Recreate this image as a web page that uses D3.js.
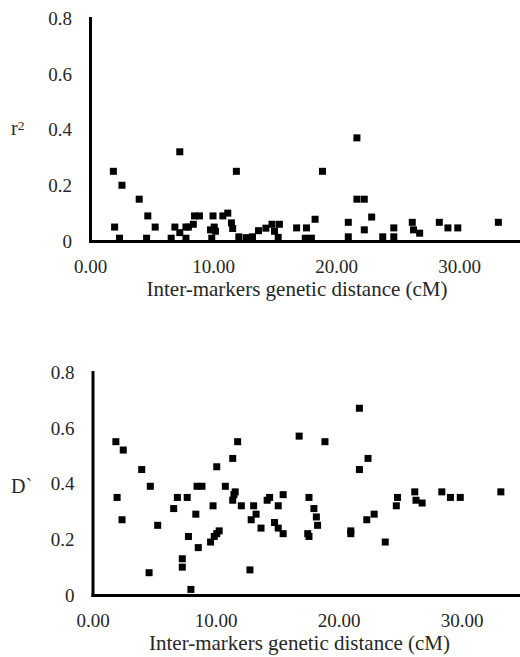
<!DOCTYPE html>
<html>
<head>
<meta charset="utf-8">
<title></title>
<style>
body { margin: 0; background: #fff; }
.axis path { stroke: #000; stroke-width: 3px; stroke-linecap: square; }
.axis line { display: none; }
</style>
</head>
<body>
<script src="https://cdn.jsdelivr.net/npm/d3@7"></script>
<script>

// r2 panel (top)
var r2Dist = [1.9, 2.0, 2.6, 2.4, 4.0, 4.7, 4.6, 5.3, 6.6, 6.9, 7.3, 7.3, 7.8, 8.0, 7.8,
  8.4, 8.5, 8.9, 9.8, 10.0, 10.1, 9.9, 10.2, 10.8, 11.2, 11.5, 11.6, 11.9, 12.1, 12.7,
  13.2, 13.2, 13.7, 14.3, 14.8, 15.0, 15.4, 15.3, 16.8, 17.6, 17.5, 18.0, 18.3, 18.9,
  21.0, 21.0, 21.7, 21.7, 22.3, 22.3, 22.9, 23.8, 24.7, 24.7, 26.2, 26.3, 26.8, 28.4,
  29.1, 29.9, 33.2];
var r2Vals = [0.25, 0.05, 0.20, 0.01, 0.15, 0.09, 0.01, 0.05, 0.01, 0.05, 0.32, 0.03, 0.05, 0.05, 0.01,
  0.06, 0.09, 0.09, 0.04, 0.09, 0.05, 0.01, 0.035, 0.09, 0.10, 0.065, 0.045, 0.25, 0.015, 0.012,
  0.015, 0.01, 0.037, 0.046, 0.06, 0.035, 0.06, 0.013, 0.047, 0.047, 0.01, 0.01, 0.078, 0.25,
  0.067, 0.015, 0.37, 0.15, 0.15, 0.04, 0.086, 0.015, 0.015, 0.047, 0.067, 0.04, 0.028, 0.067,
  0.047, 0.047, 0.067];

// D' panel (bottom)
var dDist = [1.9, 2.0, 2.5, 2.4, 4.0, 4.7, 4.6, 5.3, 6.6, 6.9, 7.3, 7.3, 8.0, 7.7, 8.4,
  7.8, 8.5, 8.9, 8.6, 9.8, 9.6, 10.1, 9.9, 10.1, 10.3, 10.8, 11.4, 11.8, 11.6, 11.5,
  11.4, 12.1, 12.8, 13.1, 12.9, 13.3, 13.7, 14.2, 14.4, 15.1, 15.5, 14.8, 15.1, 15.5,
  16.8, 17.6, 18.0, 18.2, 18.3, 17.5, 17.6, 18.9, 21.0, 21.0, 21.7, 21.7, 22.4, 22.3,
  22.9, 23.8, 24.7, 24.8, 26.2, 26.3, 26.8, 28.4, 29.1, 29.9, 33.2];
var dVals = [0.55, 0.35, 0.52, 0.27, 0.45, 0.39, 0.08, 0.25, 0.31, 0.35, 0.13, 0.10, 0.02, 0.35, 0.29,
  0.21, 0.39, 0.39, 0.17, 0.32, 0.19, 0.46, 0.21, 0.22, 0.23, 0.39, 0.49, 0.55, 0.37, 0.36,
  0.34, 0.32, 0.09, 0.32, 0.27, 0.29, 0.24, 0.34, 0.35, 0.32, 0.36, 0.26, 0.24, 0.22,
  0.57, 0.35, 0.31, 0.28, 0.25, 0.22, 0.21, 0.55, 0.23, 0.22, 0.67, 0.45, 0.49, 0.27,
  0.29, 0.19, 0.32, 0.35, 0.37, 0.34, 0.33, 0.37, 0.35, 0.35, 0.37];

var xTicks = [0, 10, 20, 30];
var yTicks = [0, 0.2, 0.4, 0.6, 0.8];
var xTitle = "Inter-markers genetic distance (cM)";

var serif = "'Liberation Serif', 'Times New Roman', Times, 'DejaVu Serif', serif";
var width = 520, height = 657;

var svg = d3.select("body").append("svg")
    .attr("width", width)
    .attr("height", height)
    .style("font-family", serif);

function drawPanel(xs, ys, left, top, label) {
  var plotH = 223;
  var x = d3.scaleLinear().domain([0, 35]).range([left, left + 430.5]);
  var y = d3.scaleLinear().domain([0, 0.8]).range([top + plotH, top]);

  var g = svg.append("g");

  // points
  var pts = xs.map(function(d, i) { return {x: d, y: ys[i]}; });
  g.selectAll("rect.pt")
    .data(pts)
    .enter().append("rect")
    .attr("class", "pt")
    .attr("x", function(d) { return x(d.x) - 3.5; })
    .attr("y", function(d) { return y(d.y) - 3.5; })
    .attr("width", 7)
    .attr("height", 7)
    .attr("fill", "#000");

  var xa = g.append("g")
    .attr("class", "axis")
    .attr("transform", "translate(0," + (top + plotH) + ")")
    .call(d3.axisBottom(x).tickValues(xTicks).tickSize(0)
      .tickFormat(d3.format(".2f")));
  xa.selectAll("text").attr("y", 32).attr("dy", null);

  var ya = g.append("g")
    .attr("class", "axis")
    .attr("transform", "translate(" + left + ",0)")
    .call(d3.axisLeft(y).tickValues(yTicks).tickSize(0).tickPadding(18)
      .tickFormat(function(d) { return d === 0 ? "0" : d3.format(".1f")(d); }));
  ya.selectAll("text").attr("dy", "0.33em");

  g.selectAll(".axis")
    .attr("font-family", serif)
    .attr("font-size", 19);
  g.selectAll(".axis text").attr("fill", "#262626");

  g.append("text")
    .attr("x", 297 + (left - 90))
    .attr("y", top + plotH + 55)
    .attr("text-anchor", "middle")
    .attr("fill", "#262626")
    .style("font-size", "21px")
    .text(xTitle);

  var lab = g.append("text")
    .attr("x", 11)
    .attr("y", y(0.4) + 5.5)
    .attr("fill", "#262626")
    .style("font-size", "20px");
  label(lab);
}

drawPanel(r2Dist, r2Vals, 90, 18, function(t) {
  t.append("tspan").text("r");
  t.append("tspan").attr("dy", -5).style("font-size", "13.5px").text("2");
});

drawPanel(dDist, dVals, 92.5, 372, function(t) {
  t.attr("y", 493).text("D`");
});

</script>
</body>
</html>
